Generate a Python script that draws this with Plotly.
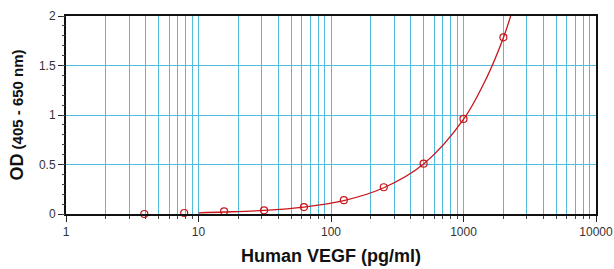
import plotly.graph_objects as go

conc = [3.9, 7.8, 15.6, 31.25, 62.5, 125, 250, 500, 1000, 2000]
od = [0.0, 0.01, 0.027, 0.037, 0.07, 0.14, 0.27, 0.508, 0.96, 1.785]

curve_x = [10, 15.6, 31.25, 62.5, 125, 250, 500, 1000, 1500, 2000, 2270]
curve_y = [0.012, 0.02, 0.037, 0.07, 0.135, 0.265, 0.505, 0.955, 1.38, 1.78, 2.0]

x_ticks = [1, 10, 100, 1000, 10000]
x_labels = ["1", "10", "100", "1000", "10000"]
y_ticks = [0, 0.5, 1, 1.5, 2]
y_labels = ["0", "0.5", "1", "1.5", "2"]

grid = "#4fbcdc"
font = "Liberation Sans, Arial, sans-serif"

fig = go.Figure()
fig.add_trace(go.Scatter(x=curve_x, y=curve_y, mode="lines", line=dict(color="#c8161d", width=1.3, shape="spline"),
                         hoverinfo="skip", showlegend=False, cliponaxis=True))
fig.add_trace(go.Scatter(x=conc, y=od, mode="markers",
                         marker=dict(symbol="circle-open", size=7, color="#c8161d", line=dict(width=1.2)),
                         showlegend=False, cliponaxis=False))

fig.update_layout(
    width=614, height=269,
    margin=dict(l=66, r=18, t=16, b=55, autoexpand=False),
    paper_bgcolor="white", plot_bgcolor="white",
    font=dict(family=font, size=12, color="#222"),
    xaxis=dict(
        type="log", range=[0, 4], automargin=False,
        tickvals=x_ticks, ticktext=x_labels,
        showgrid=True, gridcolor=grid, gridwidth=1.3,
        minor=dict(showgrid=True, gridcolor=grid, gridwidth=1, ticks="outside", ticklen=3, tickcolor="#444", dtick="D1"),
        ticks="outside", ticklen=6, tickcolor="#222",
        showline=True, linecolor="#111", linewidth=2, mirror=True,
        zeroline=False,
        title=dict(text="<b>Human VEGF (pg/ml)</b>", font=dict(family=font, size=18, color="#111"), standoff=11),
        tickfont=dict(size=12, color="#333"),
    ),
    yaxis=dict(
        range=[0, 2], automargin=False,
        tickvals=y_ticks, ticktext=y_labels,
        showgrid=True, gridcolor=grid, gridwidth=1.3,
        ticks="outside", ticklen=6, tickcolor="#222",
        showline=True, linecolor="#111", linewidth=2, mirror=True,
        zeroline=False,
        title=dict(text="<b><span style='font-size:18px'>OD</span> (405 - 650 nm)</b>", font=dict(family=font, size=15, color="#111"), standoff=12),
        tickfont=dict(size=12, color="#333"),
    ),
    yaxis2=dict(overlaying="y", range=[0, 2], dtick=0.1, tick0=0, ticks="outside", ticklen=3, automargin=False,
                tickcolor="#444", showticklabels=False, showgrid=False, zeroline=False,
                side="left", anchor="x", showline=False),
)
fig.add_trace(go.Scatter(x=[conc[0]], y=[od[0]], yaxis="y2", mode="markers", marker=dict(opacity=0),
                         showlegend=False, hoverinfo="skip"))

fig.write_html("out.html", config={"displayModeBar": False},
               post_script="document.documentElement.style.margin='0';document.body.style.margin='0';"
                           "document.body.style.overflow='hidden';")
